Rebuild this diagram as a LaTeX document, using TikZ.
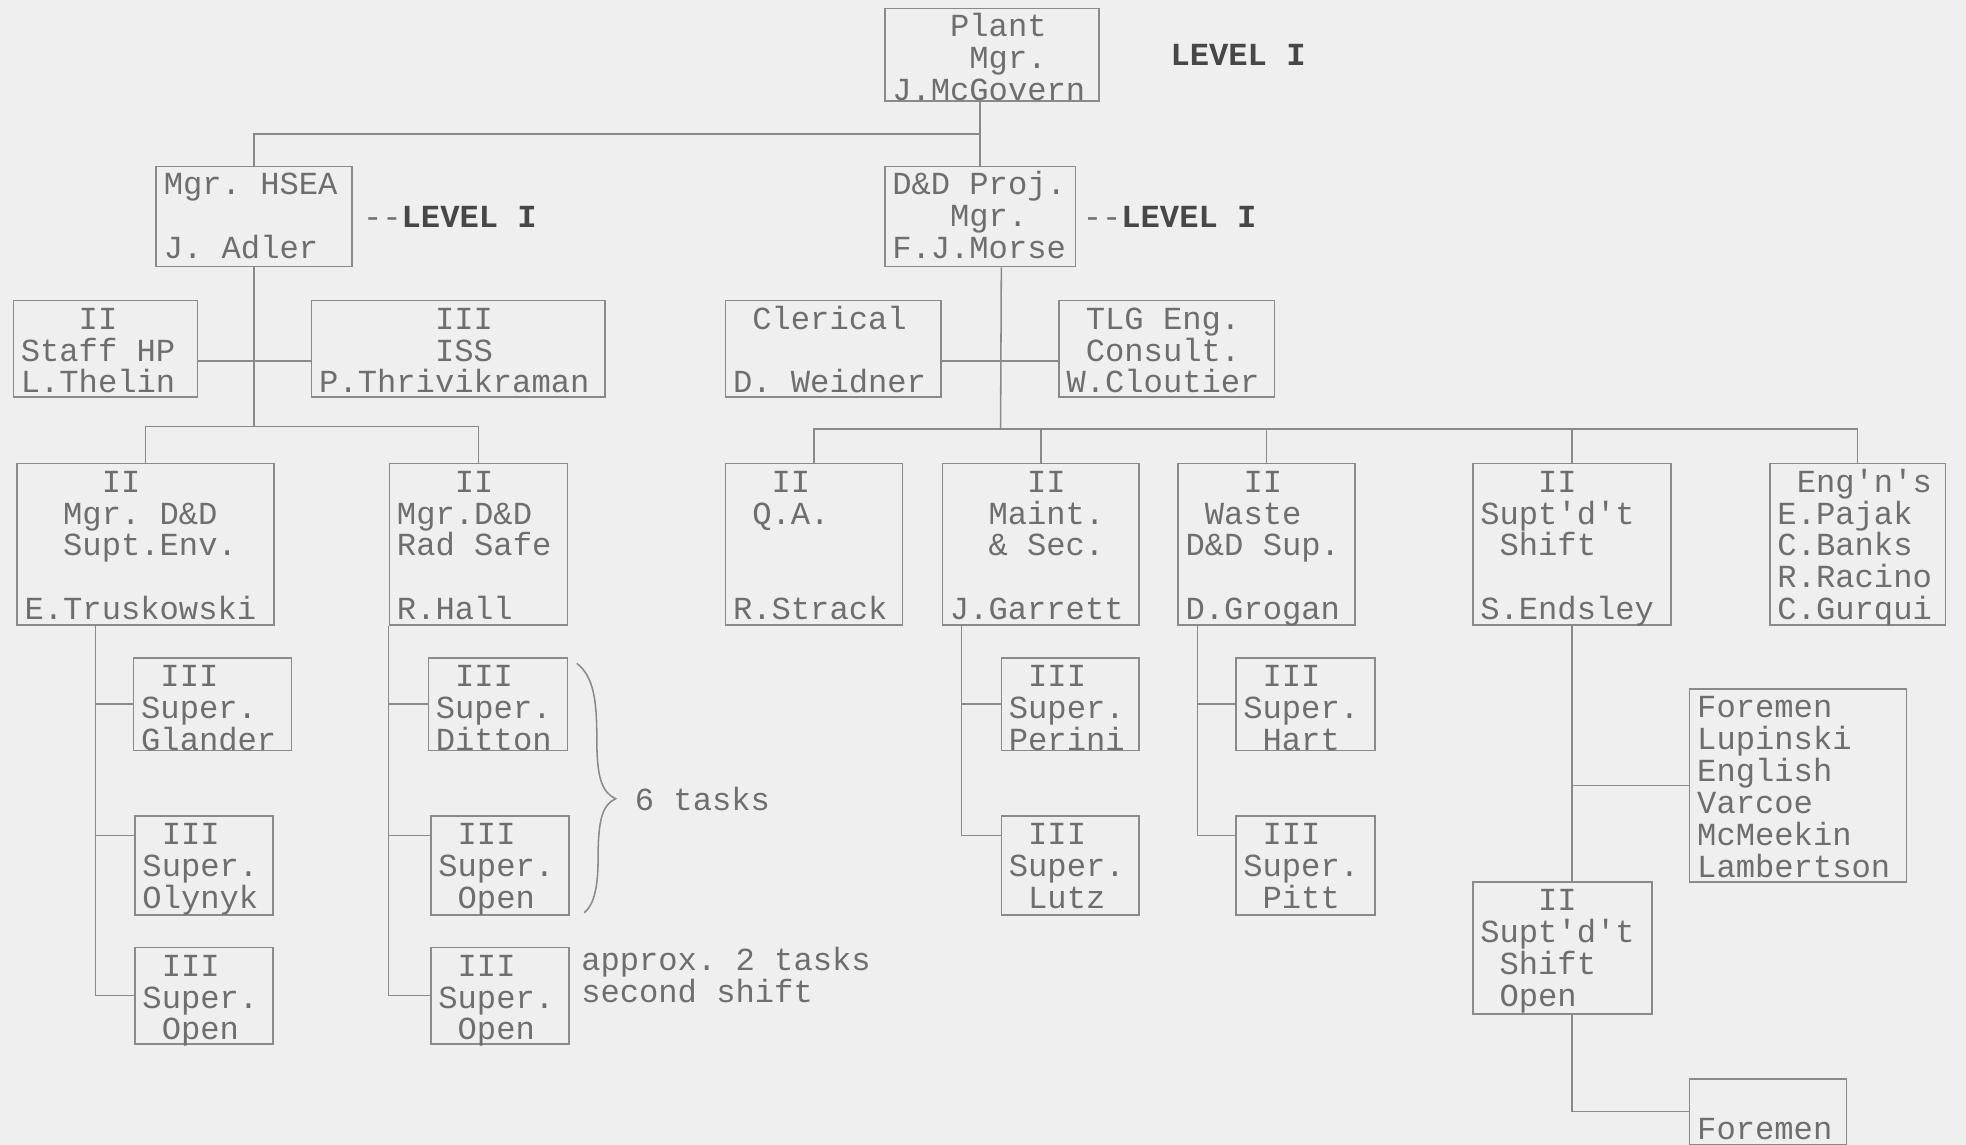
\documentclass[tikz,border=0pt]{standalone}
\usepackage{fontspec}
\setmonofont{Liberation Mono}
\usepackage{xcolor}
\usepackage{tikz}
\usetikzlibrary{positioning}

\definecolor{paper}{HTML}{EFEFEF}
\definecolor{ink}{HTML}{6E6E6E}
\definecolor{rule}{HTML}{8A8A8A}
\definecolor{boldink}{HTML}{474747}
\newcommand{\pad}[1]{\hspace*{#1\dimexpr0.6em\relax}}

\begin{document}
\begin{tikzpicture}[
    x=0.02cm, y=-0.02cm,
    font=\ttfamily\fontsize{14.6pt}{14.5pt}\selectfont,
    mono/.style={execute at begin node={\spaceskip=0.6em\xspaceskip=0.6em\relax}},
    orgbox/.style 2 args={draw=rule, line width=0.7pt, text=ink, anchor=north west, align=left, mono,
        inner xsep=0.12cm, inner ysep=0pt, minimum width=#1*0.02cm, minimum height=#2*0.02cm,
        text width=#1*0.02cm-0.24cm, text height=13pt, text depth=#2*0.02cm-13pt},
    note/.style={text=ink, inner sep=0pt, align=left, mono},
    lvl/.style={note, text=boldink, font=\ttfamily\bfseries\fontsize{14.6pt}{14.5pt}\selectfont},
    link/.style={draw=rule, line width=0.7pt}
]

    \fill[paper] (0,0) rectangle (1568,913);
    \useasboundingbox (0,0) rectangle (1568,913);

    % level I
    \node[orgbox={171}{74}] (plant) at (705,6) {\pad{3}Plant\\\pad{4}Mgr.\\J.McGovern};
    \node[orgbox={156}{80}] (hsea) at (124,132) {Mgr. HSEA\\\mbox{}\\J. Adler};
    \node[orgbox={152}{80}] (ddproj) at (705,132) {D\&D Proj.\\\pad{3}Mgr.\\F.J.Morse};
    \node[lvl, right=1.12cm of plant] (lvl1) {LEVEL I};
    \node[note, right=0.16cm of hsea] (lvl2) {--\textbf{\color{boldink}LEVEL I}};
    \node[note, right=0.1cm of ddproj] (lvl3) {--\textbf{\color{boldink}LEVEL I}};

    % staff row
    \node[orgbox={147}{77}] (staff) at (10,239) {\pad{3}II\\Staff HP\\L.Thelin};
    \node[orgbox={234}{77}] (iss) at (248,239) {\pad{6}III\\\pad{6}ISS\\P.Thrivikraman};
    \node[orgbox={172}{77}] (clerical) at (578,239) {\pad{1}Clerical\\\mbox{}\\D. Weidner};
    \node[orgbox={172}{77}] (tlg) at (844,239) {\pad{1}TLG Eng.\\\pad{1}Consult.\\W.Cloutier};

    % level II
    \node[orgbox={205}{129}] (env) at (13,369) {\pad{4}II\\\pad{2}Mgr. D\&D\\\pad{2}Supt.Env.\\\mbox{}\\E.Truskowski};
    \node[orgbox={142}{129}] (radsafe) at (310,369) {\pad{3}II\\Mgr.D\&D\\Rad Safe\\\mbox{}\\R.Hall};
    \node[orgbox={141}{129}] (qa) at (578,369) {\pad{2}II\\\pad{1}Q.A.\\\mbox{}\\\mbox{}\\R.Strack};
    \node[orgbox={157}{129}] (maint) at (751,369) {\pad{4}II\\\pad{2}Maint.\\\pad{2}\& Sec.\\\mbox{}\\J.Garrett};
    \node[orgbox={141}{129}] (waste) at (939,369) {\pad{3}II\\\pad{1}Waste\\D\&D Sup.\\\mbox{}\\D.Grogan};
    \node[orgbox={158}{129}] (shift1) at (1174,369) {\pad{3}II\\Supt'd't\\\pad{1}Shift\\\mbox{}\\S.Endsley};
    \node[orgbox={140}{129}] (engrs) at (1411,369) {\pad{1}Eng'n's\\E.Pajak\\C.Banks\\R.Racino\\C.Gurqui};

    % level III
    \node[orgbox={126}{74}] (glander) at (106,524) {\pad{1}III\\Super.\\Glander};
    \node[orgbox={110}{79}] (olynyk) at (107,650) {\pad{1}III\\Super.\\Olynyk};
    \node[orgbox={110}{77}] (open1) at (107,755) {\pad{1}III\\Super.\\\pad{1}Open};
    \node[orgbox={111}{74}] (ditton) at (341,524) {\pad{1}III\\Super.\\Ditton};
    \node[orgbox={110}{79}] (open6) at (343,650) {\pad{1}III\\Super.\\\pad{1}Open};
    \node[orgbox={110}{77}] (open2) at (343,755) {\pad{1}III\\Super.\\\pad{1}Open};
    \node[orgbox={110}{74}] (perini) at (798,524) {\pad{1}III\\Super.\\Perini};
    \node[orgbox={110}{79}] (lutz) at (798,650) {\pad{1}III\\Super.\\\pad{1}Lutz};
    \node[orgbox={111}{74}] (hart) at (985,524) {\pad{1}III\\Super.\\\pad{1}Hart};
    \node[orgbox={111}{79}] (pitt) at (985,650) {\pad{1}III\\Super.\\\pad{1}Pitt};
    \node[orgbox={173}{154}] (foremen1) at (1347,549) {Foremen\\Lupinski\\English\\Varcoe\\McMeekin\\Lambertson};
    \node[orgbox={143}{105}] (shift2) at (1174,703) {\pad{3}II\\Supt'd't\\\pad{1}Shift\\\pad{1}Open};
    \node[orgbox={125}{52}] (foremen2) at (1347,860) {\mbox{}\\Foremen};

    % brace and notes
    \coordinate (tip) at (491,637);
    \draw[link] (460,529) .. controls (474,540) and (476,560) .. (476,590)
        .. controls (476,620) and (480,632) .. (tip)
        .. controls (480,642) and (477,655) .. (477,685)
        .. controls (477,710) and (473,722) .. (466,728);
    \node[note, right=0.3cm of tip] (six) {6 tasks};
    \node[note, anchor=north west] (appr) at ([xshift=0.18cm]open2.north east) {approx. 2 tasks\\second shift};

    % connectors, top
    \draw[link] (plant.south -| ddproj.north) -- (ddproj.north);
    \draw[link] (hsea.north) -- ++(0,-25) -| (ddproj.north);
    \coordinate (bus1) at (203,340);
    \draw[link] (hsea.south) -- (hsea.south |- bus1);
    \draw[link] (env.north) |- (bus1) -| (radsafe.north);
    \draw[link] ([yshift=-0.2cm]staff.east) -- ([yshift=-0.2cm]iss.west);
    \coordinate (bus2) at (798,342);
    \draw[link] ([xshift=0.34cm]ddproj.south) -- (bus2);
    \draw[link] (qa.north) |- (bus2) -| (engrs.north);
    \foreach \n in {maint,waste,shift1}
        \draw[link] (\n.north) -- (\n.north |- bus2);
    \draw[link] ([yshift=-0.2cm]clerical.east) -- ([yshift=-0.2cm]tlg.west);

    % connectors, level III
    \coordinate (sp1) at ([xshift=1.26cm]env.south west);
    \draw[link] (sp1) |- (open1.west);
    \draw[link] (sp1 |- glander.west) -- (glander.west);
    \draw[link] (sp1 |- olynyk.157) -- (olynyk.157);
    \coordinate (sp2) at (radsafe.south west);
    \draw[link] (sp2) |- (open2.west);
    \draw[link] (sp2 |- ditton.west) -- (ditton.west);
    \draw[link] (sp2 |- open6.157) -- (open6.157);
    \coordinate (sp3) at ([xshift=0.32cm]maint.south west);
    \draw[link] (sp3) |- (lutz.157);
    \draw[link] (sp3 |- perini.west) -- (perini.west);
    \coordinate (sp4) at ([xshift=0.32cm]waste.south west);
    \draw[link] (sp4) |- (pitt.157);
    \draw[link] (sp4 |- hart.west) -- (hart.west);
    \draw[link] (shift1.south) -- (shift1.south |- shift2.north);
    \draw[link] (foremen1.west) -- (foremen1.west -| shift1.south);
    \draw[link] (shift1.south |- shift2.south) |- (foremen2.west);

\end{tikzpicture}
\end{document}
